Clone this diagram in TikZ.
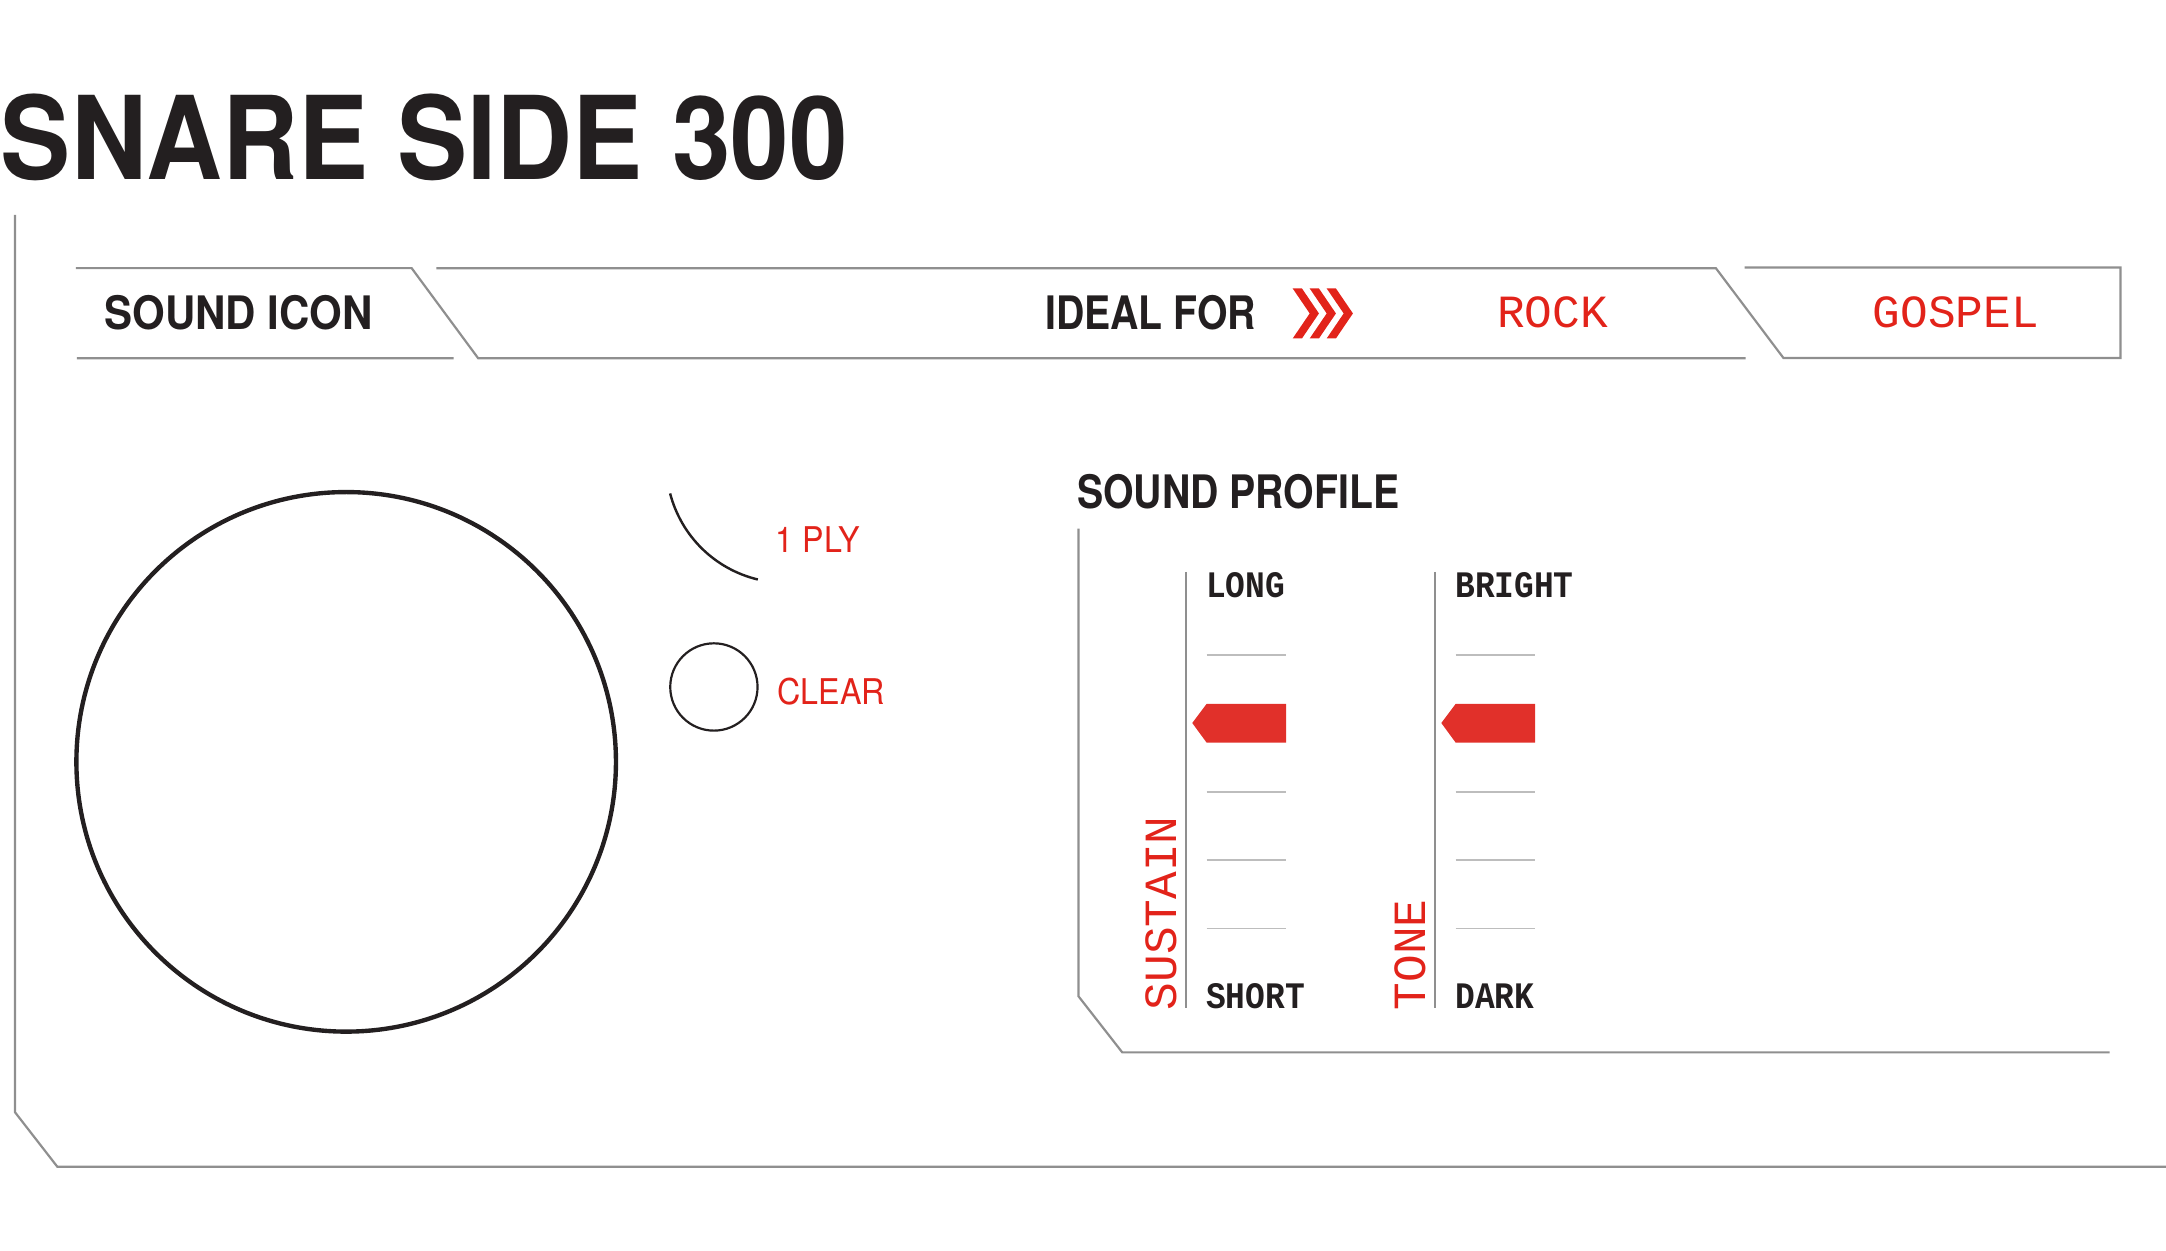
\documentclass[tikz,border=0pt]{standalone}
\usepackage{fontspec}
\newfontfamily\grot[FakeStretch=0.91]{TeX Gyre Heros}
\newfontfamily\grotn[FakeStretch=0.85]{TeX Gyre Heros}
\newfontfamily\mono{Liberation Mono}
\newfontfamily\monocond[FakeStretch=0.88]{Liberation Mono}
\definecolor{snarered}{HTML}{E2231A}
\definecolor{markred}{HTML}{E1302A}
\definecolor{rulegray}{HTML}{8F8F8F}
\definecolor{tickgray}{HTML}{BDBDBD}
\definecolor{ink}{HTML}{231F20}
\begin{document}
\begin{tikzpicture}[x=0.1mm,y=-0.1mm,
  rule/.style={draw=rulegray,line width=0.45pt},
  head/.style={inner sep=0,anchor=base west,text=ink,font=\grot\bfseries\fontsize{9.5}{11}\selectfont},
  narrowhead/.style={head,font=\grotn\bfseries\fontsize{9.5}{11}\selectfont},
  redsans/.style={inner sep=0,anchor=base west,text=snarered,font=\grot\fontsize{7.3}{9}\selectfont},
  redmono/.style={inner sep=0,anchor=base west,text=snarered,font=\mono\fontsize{9.5}{11}\selectfont},
  endlabel/.style={inner sep=0,anchor=base west,text=ink,font=\monocond\bfseries\fontsize{7.7}{9}\selectfont}]

\useasboundingbox (0,0) rectangle (1568,905.6);

\node[head,font=\grot\bfseries\fontsize{23.8}{28}\selectfont] (title) at (0,130) {SNARE SIDE 300};

% outline
\draw[rule] (10.9,155.5) -- (10.9,805.2) -- (41.5,844.6) -- (1568,844.6);

% tab bar
\draw[rule] (55,194.1) -- (298,194.1) -- (346.2,259.4) -- (1263.7,259.4)
            (55.7,259.4) -- (328.3,259.4)
            (315.9,194.2) -- (1242.2,194.2) -- (1291.1,259.2) -- (1535,259.2) -- (1535,193.7) -- (1262.9,193.7);
\node[head] (icon) at (75,238.5) {SOUND ICON};
\node[narrowhead] (ideal) at (756,238.5) {IDEAL FOR};
\foreach \i in {0,1,2}
  \fill[snarered,shift={(12.3*\i,0)}] (935.8,208.8) -- (942.5,208.8) -- (954.8,226.9)
        -- (942.5,245) -- (935.8,245) -- (948.1,226.9) -- cycle;
\node[redmono] (rock) at (1083,237.2) {ROCK};
\node[redmono] (gospel) at (1355,237.2) {GOSPEL};

% drum and plies
\draw[ink,line width=0.9pt] (250.6,551.5) circle (19.53mm);
\draw[ink,line width=0.5pt] (485.1,357.2) .. controls (493.2,388.2) and (517.5,412) .. (548.6,419.5);
\node[redsans] (ply) at (561,400) {1 PLY};
\draw[ink,line width=0.45pt] (516.8,497.3) circle (3.16mm);
\node[redsans] (clear) at (562,510) {CLEAR};

% sound profile
\node[narrowhead] (profile) at (779,368) {SOUND PROFILE};
\draw[rule] (780.8,382.6) -- (780.8,721.3) -- (812.4,761.8) -- (1527.1,761.8);
\foreach \sx/\hi/\lo/\what/\nm in {858.5/LONG/SHORT/SUSTAIN/sus,1038.8/BRIGHT/DARK/TONE/tone}{
  \draw[rule] (\sx,413.9) -- (\sx,729.7);
  \foreach \ty in {474,573.1,622.6,672.1}
    \draw[tickgray,line width=0.35pt] (\sx+15,\ty) -- (\sx+72.5,\ty);
  \fill[markred] (\sx+4.6,523.4) -- (\sx+15,509.5) -- (\sx+72.5,509.5) -- (\sx+72.5,537.6) -- (\sx+15,537.6) -- cycle;
  \node[endlabel] (\nm-hi) at (\sx+14,432.6) {\hi};
  \node[endlabel] (\nm-lo) at (\sx+14,729.7) {\lo};
  \node[redmono,rotate=90] (\nm) at (\sx-6.8,732) {\what};
}
\end{tikzpicture}
\end{document}
